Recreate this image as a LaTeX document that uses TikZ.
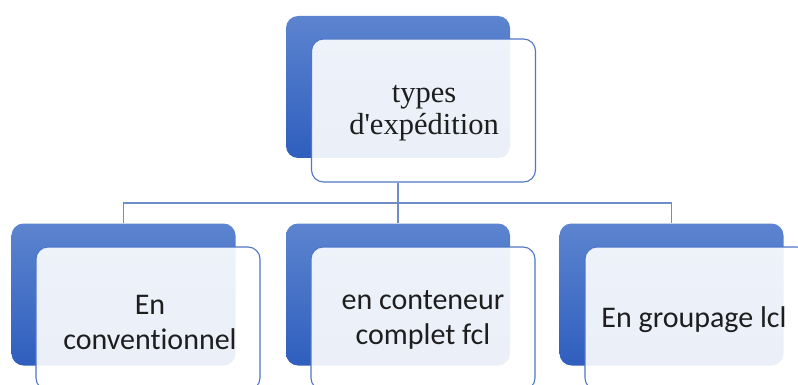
\documentclass[tikz,border=0pt]{standalone}
\usepackage{fontspec}
\setmainfont[Ligatures=NoCommon]{Carlito}
\newfontfamily\serifx{Liberation Serif}
\definecolor{blueL}{RGB}{92,132,207}
\definecolor{blueD}{RGB}{47,94,190}
\definecolor{edgeB}{RGB}{78,118,198}
\definecolor{connB}{RGB}{110,142,200}
\definecolor{txt}{RGB}{30,30,30}
\begin{document}
\begin{tikzpicture}[x=1pt,y=-1pt,
  backbox/.style={rectangle,rounded corners=12pt,minimum width=224pt,minimum height=142pt,inner sep=0pt,top color=blueL,bottom color=blueD,draw=none},
  frontbox/.style={rectangle,rounded corners=12pt,minimum width=224pt,minimum height=143pt,inner sep=0pt,fill=white,fill opacity=0.9,draw=edgeB,draw opacity=1,line width=1.1pt},
  conn/.style={draw=connB,line width=1.3pt},
  lbl/.style={text=txt,align=center,inner sep=0pt,font=\fontsize{30}{35}\selectfont},
  lbltop/.style={text=txt,align=center,inner sep=0pt,font=\serifx\fontsize{30.5}{32}\selectfont}]
\useasboundingbox (0,0) rectangle (798,385);
\clip (0,0) rectangle (798,385);
% boxes
\node[backbox] (topback) at (398,87) {};
\node[frontbox] (topfront) at (423.5,110.5) {};
\node[backbox] (lback) at (123.5,294.5) {};
\node[frontbox] (lfront) at (148,318.5) {};
\node[backbox] (mback) at (398,294.5) {};
\node[frontbox] (mfront) at (423,318.5) {};
\node[backbox] (rback) at (671.5,294.5) {};
\node[frontbox] (rfront) at (697,318.5) {};
% connectors
\coordinate (bus) at (398,203);
\draw[conn] (topback.center |- topfront.south) -- (bus);
\draw[conn] (bus) -| (lback.north);
\draw[conn] (bus) -| (rback.north);
\draw[conn] (bus) -- (mback.north);
% labels
\node[lbltop] (ttop) at (424,113) {types\\d'expédition};
\node[lbl] (tl) at (150,322) {En\\conventionnel};
\node[lbl] (tm) at (423,320) {en conteneur\\complet fcl};
\node[lbl] (tr) at (694,320) {En groupage lcl};
\end{tikzpicture}
\end{document}
